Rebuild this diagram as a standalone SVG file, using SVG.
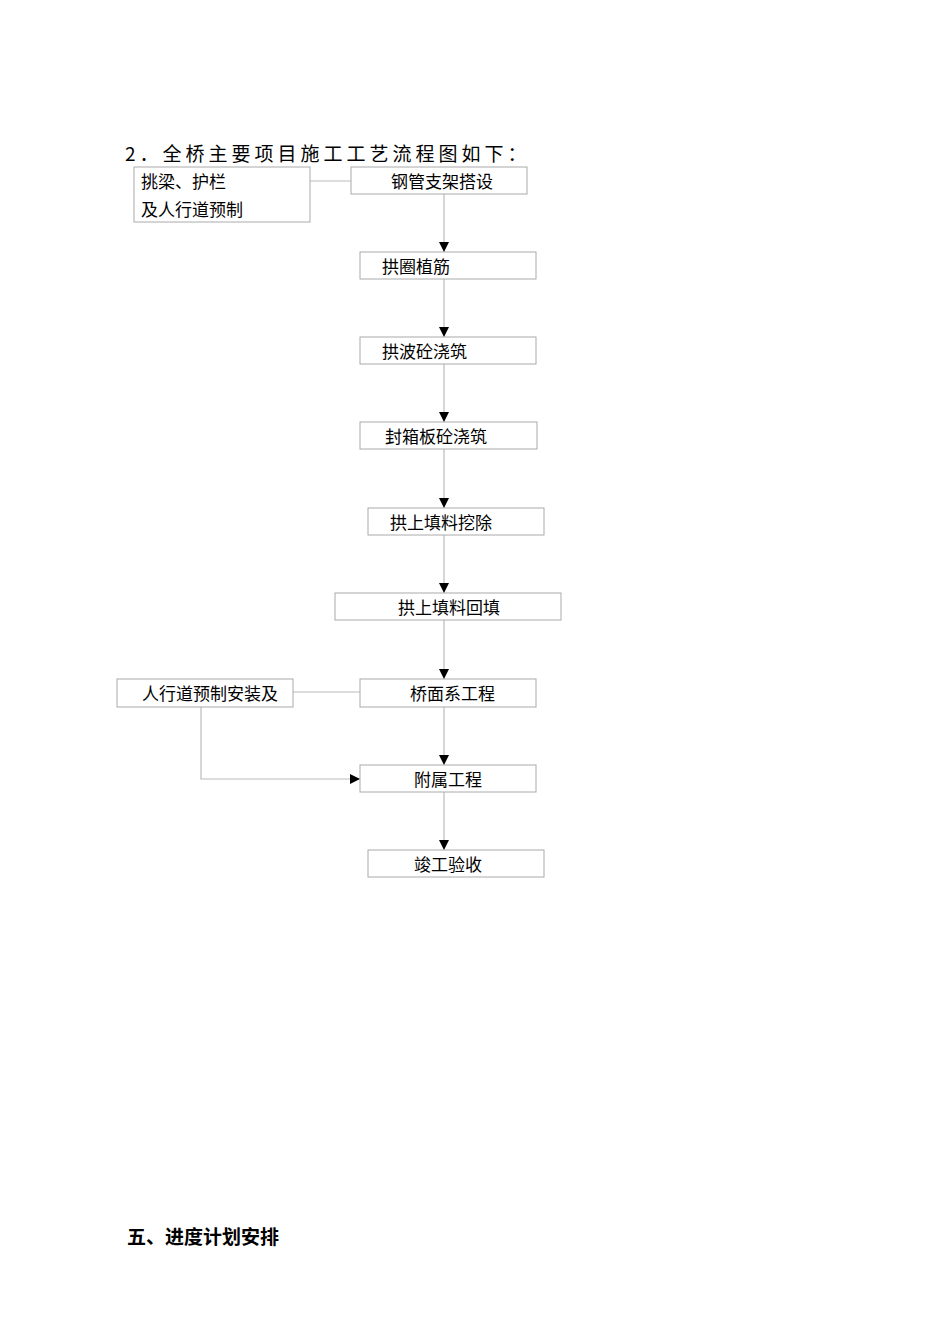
<svg xmlns="http://www.w3.org/2000/svg" width="950" height="1344" viewBox="0 0 950 1344">
<style>
text{font-family:"Noto Sans CJK SC","Liberation Serif",serif;fill:#000}
.b{fill:#fff;stroke:#aaa;stroke-width:1}
.t{font-size:17px}
.c line,.c polyline{stroke:#bbb;stroke-width:1.2;fill:none}
</style>
<defs><marker id="a" viewBox="0 0 10 10" refX="10" refY="5" markerWidth="10" markerHeight="10" markerUnits="userSpaceOnUse" orient="auto"><path d="M0,0L10,5L0,10z" fill="#000"/></marker></defs>
<rect width="950" height="1344" fill="#fff"/>
<text x="125" y="161" font-size="19" letter-spacing="4">2．全桥主要项目施工工艺流程图如下：</text>
<g class="c">
<line x1="310" y1="181" x2="351" y2="181"/>
<line x1="444" y1="194" x2="444" y2="252" marker-end="url(#a)"/>
<line x1="444" y1="279" x2="444" y2="337" marker-end="url(#a)"/>
<line x1="444" y1="364" x2="444" y2="422" marker-end="url(#a)"/>
<line x1="444" y1="449" x2="444" y2="508" marker-end="url(#a)"/>
<line x1="444" y1="535" x2="444" y2="593" marker-end="url(#a)"/>
<line x1="444" y1="620" x2="444" y2="679" marker-end="url(#a)"/>
<line x1="444" y1="707" x2="444" y2="765" marker-end="url(#a)"/>
<line x1="444" y1="792" x2="444" y2="850" marker-end="url(#a)"/>
<line x1="293" y1="692" x2="360" y2="692"/>
<polyline points="201,707 201,779 360,779" marker-end="url(#a)"/>
</g>
<g id="nA"><rect class="b" x="134" y="167" width="176" height="55"/><text class="t" x="141" y="188">挑梁、护栏</text><text class="t" x="141" y="216">及人行道预制</text></g>
<g id="n1"><rect class="b" x="351" y="167" width="176" height="27"/><text class="t" x="391" y="188">钢管支架搭设</text></g>
<g id="n2"><rect class="b" x="360" y="252" width="176" height="27"/><text class="t" x="382" y="273">拱圈植筋</text></g>
<g id="n3"><rect class="b" x="360" y="337" width="176" height="27"/><text class="t" x="382" y="358">拱波砼浇筑</text></g>
<g id="n4"><rect class="b" x="360" y="422" width="177" height="27"/><text class="t" x="385" y="443">封箱板砼浇筑</text></g>
<g id="n5"><rect class="b" x="368" y="508" width="176" height="27"/><text class="t" x="390" y="529">拱上填料挖除</text></g>
<g id="n6"><rect class="b" x="335" y="593" width="226" height="27"/><text class="t" x="398" y="614">拱上填料回填</text></g>
<g id="nL"><rect class="b" x="117" y="679" width="176" height="28"/><text class="t" x="142" y="700">人行道预制安装及</text></g>
<g id="n7"><rect class="b" x="360" y="679" width="176" height="28"/><text class="t" x="410" y="700">桥面系工程</text></g>
<g id="n8"><rect class="b" x="360" y="765" width="176" height="27"/><text class="t" x="414" y="786">附属工程</text></g>
<g id="n9"><rect class="b" x="368" y="850" width="176" height="27"/><text class="t" x="414" y="871">竣工验收</text></g>
<text x="127" y="1244" font-size="19" font-weight="bold">五、进度计划安排</text>
</svg>
